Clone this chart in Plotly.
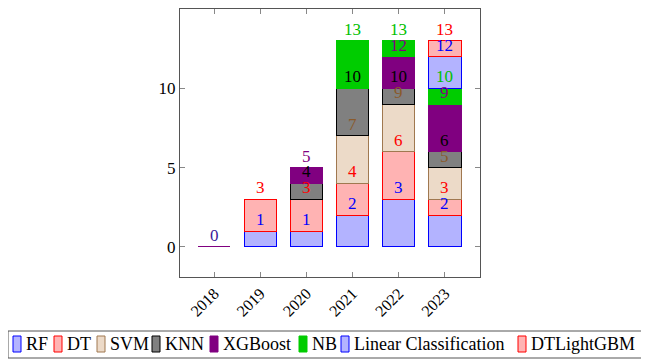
import plotly.graph_objects as go

years = ["2018", "2019", "2020", "2021", "2022", "2023"]
series_names = ["RF", "DT", "SVM", "KNN", "XGBoost", "NB", "Linear Classification", "DTLightGBM"]
rf = [0, 1, 1, 2, 3, 2]
dt = [0, 2, 2, 2, 3, 1]
svm = [0, 0, 0, 3, 3, 2]
knn = [0, 0, 1, 3, 1, 1]
xgboost = [0, 0, 1, 0, 2, 3]
nb = [0, 0, 0, 3, 1, 1]
linear = [0, 0, 0, 0, 0, 2]
dtlightgbm = [0, 0, 0, 0, 0, 1]
y_ticks = [0, 5, 10]

values = [rf, dt, svm, knn, xgboost, nb, linear, dtlightgbm]

# styles
fills = ["#b3b3ff", "#ffb3b3", "#ecdac8", "#808080", "#800080", "#00cc00", "#b3b3ff", "#ffb3b3"]
edges = ["#0000ff", "#ff0000", "#a07850", "#000000", "#800080", "#00cc00", "#0000ff", "#ff0000"]
label_colors = ["#0000ff", "#ff0000", "#8a5a2b", "#000000", "#800080", "#00c000", "#0000ff", "#ff0000"]
# legend layout (left pixel of each key symbol, figure coordinates)
legend_key_px = [5, 46, 89, 144, 202, 291, 333, 510]

FONT = "Liberation Serif"
W, H = 649, 361
ML, MR, MT, MB = 2, 2, 1, 92
PW, PH = W - ML - MR, H - MT - MB


def px_x(px):
    return (px - ML) / PW


def px_y(py):
    return (H - MB - py) / PH


totals = [sum(s[i] for s in values) for i in range(len(years))]

fig = go.Figure()
for si, (name, vals, fc, ec) in enumerate(zip(series_names, values, fills, edges)):
    # hide zero-height segments, except keep one flat bar where the whole year is empty
    yv = [v if (v > 0 or (totals[i] == 0 and name == "XGBoost")) else None
          for i, v in enumerate(vals)]
    fig.add_trace(go.Bar(x=years, y=yv, name=name, showlegend=False,
                         marker=dict(color=fc, line=dict(color=ec, width=1))))

annotations = []
cum = [0] * len(years)
for si, vals in enumerate(values):
    for i, v in enumerate(vals):
        cum[i] += v
        show = v > 0 or (totals[i] == 0 and si == 0)
        if show:
            col = "#3a1a9a" if totals[i] == 0 else label_colors[si]
            annotations.append(dict(x=i, y=cum[i], xref="x", yref="y",
                                    text=str(cum[i]), showarrow=False,
                                    yanchor="bottom",
                                    font=dict(family=FONT, size=17, color=col)))

# custom one-row legend (box, keys, names)
shapes = [dict(type="rect", xref="paper", yref="paper",
               x0=px_x(0), x1=px_x(637), y0=px_y(350), y1=px_y(323),
               line=dict(color="#555555", width=1), fillcolor="rgba(0,0,0,0)")]
for name, fc, ec, kx in zip(series_names, fills, edges, legend_key_px):
    shapes.append(dict(type="rect", xref="paper", yref="paper",
                       x0=px_x(kx), x1=px_x(kx + 8), y0=px_y(344), y1=px_y(328),
                       line=dict(color=ec, width=1), fillcolor=fc))
    annotations.append(dict(x=px_x(kx + 11), y=px_y(336), xref="paper", yref="paper",
                            text=name, showarrow=False, xanchor="left", yanchor="middle",
                            font=dict(family=FONT, size=18, color="black")))

fig.update_layout(
    barmode="stack", bargap=0.3,
    width=W, height=H,
    margin=dict(l=ML, r=MR, t=MT, b=MB, autoexpand=False),
    paper_bgcolor="white", plot_bgcolor="white",
    font=dict(family=FONT, size=17, color="black"),
    annotations=annotations, shapes=shapes,
    showlegend=False,
)
fig.update_xaxes(type="category", domain=[px_x(172), px_x(472)], range=[-0.74, 5.76],
                 ticks="inside", ticklen=5, tickcolor="#888888",
                 tickangle=-45, showline=True, linecolor="#555555", mirror="ticks",
                 showgrid=False, tickfont=dict(family=FONT, size=16))
fig.update_yaxes(range=[-1.9, 15], tickvals=y_ticks, ticks="inside", ticklen=5, tickcolor="#888888",
                 showline=True, linecolor="#555555", mirror="ticks", showgrid=False, zeroline=False,
                 tickfont=dict(family=FONT, size=17))
fig.write_html("out.html")
